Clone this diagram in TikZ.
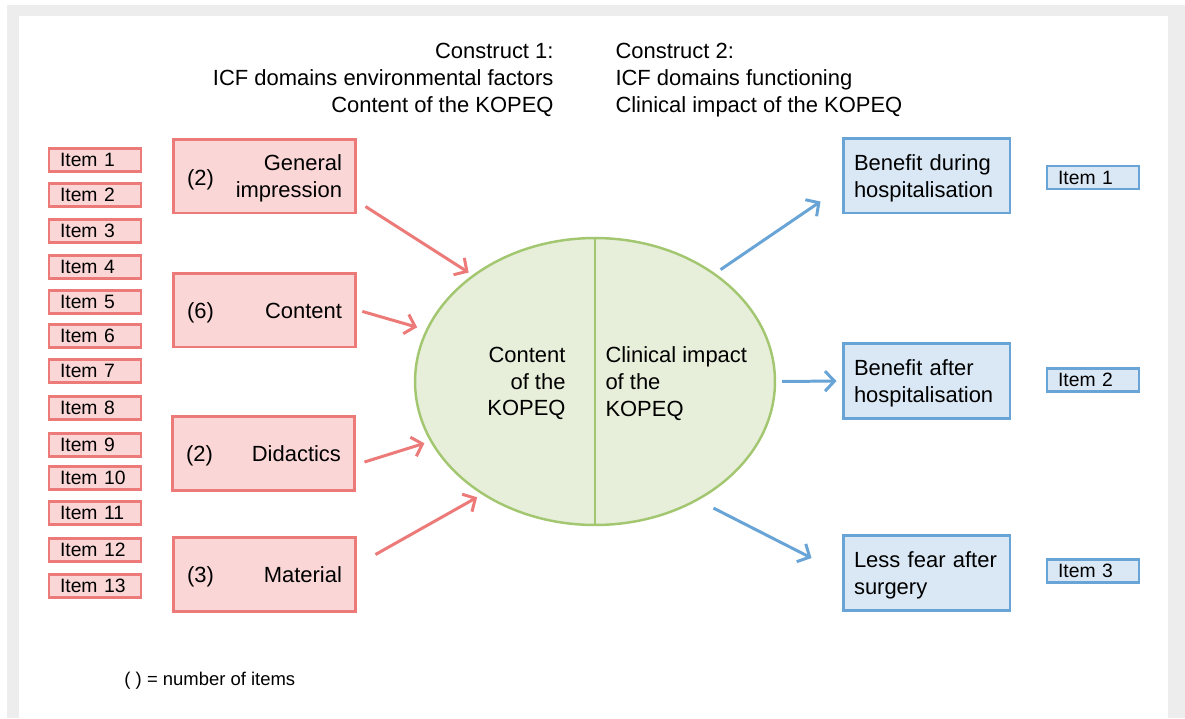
\documentclass[tikz,border=0pt]{standalone}
\usepackage{fontspec}
\setmainfont{Liberation Sans}
\usetikzlibrary{arrows.meta,shapes.geometric}
\definecolor{redline}{RGB}{236,122,120}
\definecolor{redfill}{RGB}{250,215,214}
\definecolor{blueline}{RGB}{104,164,214}
\definecolor{bluefill}{RGB}{218,232,245}
\definecolor{greenline}{RGB}{163,199,112}
\definecolor{greenfill}{RGB}{231,239,218}
\definecolor{framegray}{RGB}{237,237,237}

\begin{document}
\begin{tikzpicture}[x=0.02cm,y=-0.02cm,
  >={Straight Barb[length=1.9mm,width=4mm]},line width=1.7pt,
  txt/.style={inner sep=0pt,font=\fontsize{12.5}{15.2}\selectfont},
  itembox/.style={draw=redline,fill=redfill,line width=1.6pt,minimum height=0.46cm,
    text width=1.4cm,inner xsep=0.22cm,inner ysep=0pt,align=left,
    font=\fontsize{11}{12}\selectfont},
  outitem/.style={itembox,draw=blueline,fill=bluefill},
  catbox/.style={draw=redline,fill=redfill,line width=1.7pt,minimum height=1.48cm,
    text width=3.1cm,inner xsep=0.28cm,align=left,font=\fontsize{12.5}{15.2}\selectfont},
  outbox/.style={draw=blueline,fill=bluefill,line width=1.7pt,minimum height=1.5cm,
    text width=2.9cm,inner xsep=0.22cm,align=left,font=\fontsize{12.5}{15.2}\selectfont}]
  \useasboundingbox (0,0) rectangle (1185,718);
  \fill[framegray] (7,5) rectangle (1185,718);
  \fill[white] (19,16) rectangle (1168,718);

  % header
  \node[txt,anchor=east,align=right] (con1) at (555,80)
    {Construct 1:\\ICF domains environmental factors\\Content of the KOPEQ};
  \node[txt,anchor=west,align=left] (con2) at (614,80)
    {Construct 2:\\ICF domains functioning\\Clinical impact of the KOPEQ};

  % items of the questionnaire
  \foreach \n/\y in {1/160,2/195,3/231,4/267,5/302,6/336,7/371,8/408,9/445,10/478,11/513,12/550,13/586}
    \node[itembox] (item\n) at (95,\y) {Item \n};

  % scales
  \node[catbox] (gen) at (264.5,176)
    {\raisebox{-2.5pt}{(2)}\hfill\begin{tabular}{@{}r@{}}\rule{0pt}{13.6pt}General\\impression\end{tabular}};
  \node[catbox] (cont) at (264.5,310) {\rule{0pt}{11.7pt}(6)\hfill Content};
  \node[catbox] (did) at (263.5,453) {\rule{0pt}{11.7pt}(2)\hfill Didactics};
  \node[catbox] (mat) at (264.5,574) {\rule{0pt}{11.7pt}(3)\hfill Material};

  % the two constructs
  \node[ellipse,draw=greenline,fill=greenfill,line width=1.4pt,minimum width=7.2cm,
    minimum height=5.74cm,inner sep=0pt] (kopeq) at (595,381.5) {};
  \draw[greenline,line width=1.4pt] (kopeq.north) -- (kopeq.south);
  \node[txt,anchor=east,align=right] (left) at (567,383.5) {Content\\of the\\KOPEQ};
  \node[txt,anchor=west,align=left] (right) at (604,383.5) {Clinical impact\\of the\\KOPEQ};

  % outcomes
  \node[outbox] (bd) at (926.5,175.5) {\rule{0pt}{11.9pt}Benefit during\\hospitalisation};
  \node[outbox] (ba) at (926.5,381) {\rule{0pt}{11.9pt}Benefit after\\hospitalisation};
  \node[outbox] (lf) at (926.5,573) {\rule{0pt}{11.9pt}Less fear after\\surgery};
  \node[outitem] (out1) at (1093,177.5) {Item 1};
  \node[outitem] (out2) at (1093,380) {Item 2};
  \node[outitem] (out3) at (1093,571) {Item 3};

  \path[->,redline]
  ([shift={(8,-8)}]gen.south east) edge[shorten >=0.09cm] (kopeq.139.5)
  (cont.east) edge[shorten <=0.1cm,shorten >=0.18cm] (kopeq.163)
  ([shift={(8,9)}]did.east) edge[shorten >=0.12cm] (kopeq.200)
  ([shift={(18,19)}]mat.north east) edge[shorten >=0.11cm] (kopeq.225);
  \path[->,blueline]
  (kopeq.42) edge[shorten <=0.13cm] ([shift={(-21,-13)}]bd.south west)
  (kopeq.0) edge[shorten <=0.12cm,shorten >=0.1cm] (ba.west)
  (kopeq.311.6) edge[shorten <=0.34cm] ([shift={(-30,24)}]lf.north west);

  \node[inner sep=0pt,anchor=west,font=\fontsize{10.5}{12}\selectfont] (note) at (123,681)
    {( ) = number of items};
\end{tikzpicture}
\end{document}
